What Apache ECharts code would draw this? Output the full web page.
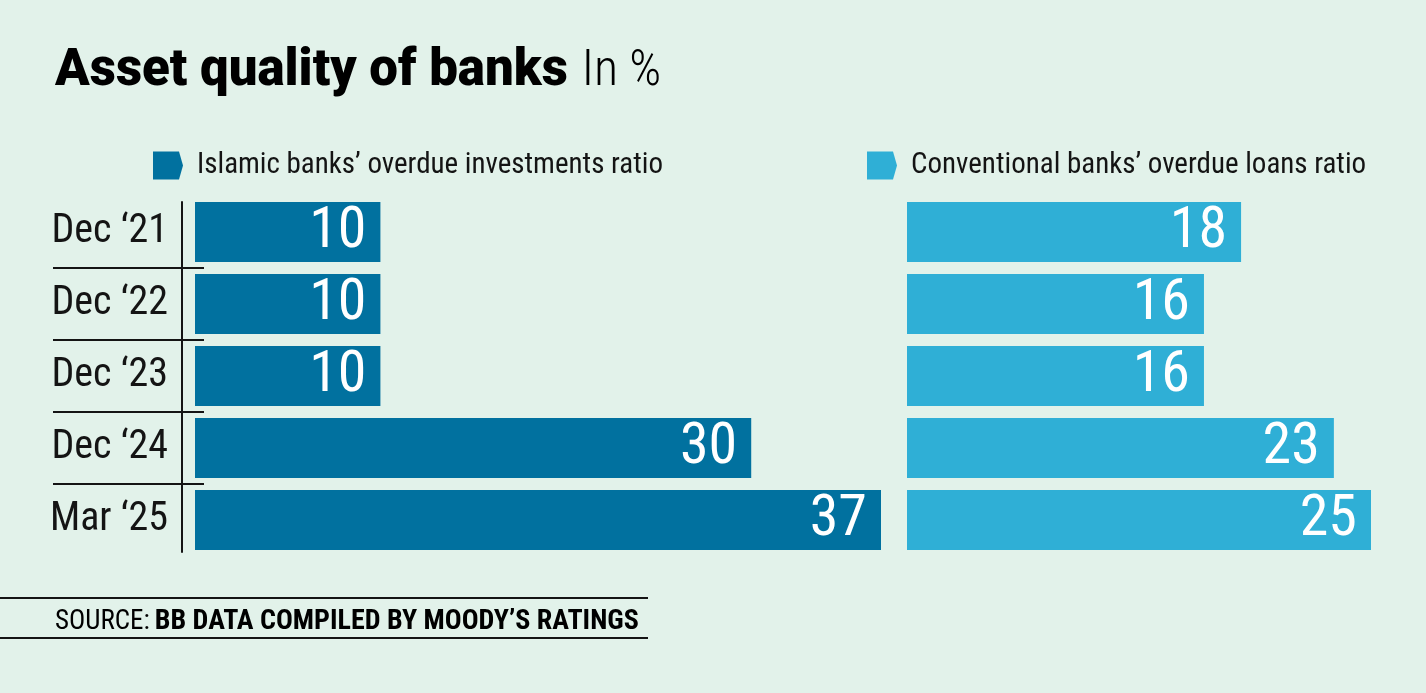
<!DOCTYPE html>
<html><head><meta charset="utf-8">
<script src="https://cdn.jsdelivr.net/npm/echarts@6/dist/echarts.min.js"></script>
<style>html,body{margin:0;padding:0;background:#e2f2ea;} #c{width:1426px;height:693px;}</style>
</head><body><div id="c"></div>
<script>
const categories = ['Dec \u201821','Dec \u201822','Dec \u201823','Dec \u201824','Mar \u201825'];
const islamicValues = [10, 10, 10, 30, 37];
const conventionalValues = [18, 16, 16, 23, 25];
const seriesNames = ['Islamic banks\u2019 overdue investments ratio', 'Conventional banks\u2019 overdue loans ratio'];
const titleMain = 'Asset quality of banks';
const titleUnit = 'In %';
const sourceLabel = 'SOURCE:';
const sourceText = 'BB DATA COMPILED BY MOODY\u2019S RATINGS';

const NARROW = '"Roboto Condensed", "DejaVu Sans Condensed", sans-serif';
const DARK = '#01719f';
const LIGHT = '#2fafd6';
const INK = '#141414';

const chart = echarts.init(document.getElementById('c'), null, {renderer: 'canvas'});
const icon = 'path://M0,0L26,0L30,14L26,28L0,28Z';
const valueLabel = {
  show: true, position: 'insideRight', distance: 14, color: '#ffffff',
  fontSize: 58, fontWeight: 'normal', fontFamily: NARROW
};
chart.setOption({
  backgroundColor: '#e2f2ea',
  animation: false,
  title: [
    {
      text: '{b|' + titleMain + '}{r|' + titleUnit + '}',
      left: 50, top: 42,
      textStyle: { rich: {
        b: { fontSize: 51, fontWeight: 900, fontFamily: 'Roboto', color: '#000' },
        r: { fontSize: 50, fontWeight: 300, fontFamily: NARROW, color: '#000', padding: [0, 0, 0, 14] }
      } }
    },
    {
      text: '{r|' + sourceLabel + '} {b|' + sourceText + '}',
      left: 50, top: 603,
      textStyle: { rich: {
        r: { fontSize: 27, fontWeight: 'normal', fontFamily: NARROW, color: '#000' },
        b: { fontSize: 28, fontWeight: 'bold', fontFamily: NARROW, color: '#000' }
      } }
    }
  ],
  legend: [
    {
      data: [seriesNames[0]], left: 148, top: 146, itemWidth: 30, itemHeight: 28, icon: icon,
      selectedMode: false,
      textStyle: { fontSize: 29, fontFamily: NARROW, color: INK, padding: [0, 0, 0, 9] }
    },
    {
      data: [seriesNames[1]], left: 862, top: 146, itemWidth: 30, itemHeight: 28, icon: icon,
      selectedMode: false,
      textStyle: { fontSize: 29, fontFamily: NARROW, color: INK, padding: [0, 0, 0, 9] }
    }
  ],
  grid: [
    { left: 195, top: 196, width: 686, height: 360 },
    { left: 907, top: 196, width: 464, height: 360 },
    { left: 53, top: 196, width: 151, height: 360 },
    { left: 182, top: 202, width: 1, height: 350 }
  ],
  xAxis: [
    { gridIndex: 0, type: 'value', min: 0, max: v => v.max, show: false },
    { gridIndex: 1, type: 'value', min: 0, max: v => v.max, show: false },
    { gridIndex: 2, type: 'value', show: false },
    { gridIndex: 3, type: 'value', show: false }
  ],
  yAxis: [
    {
      gridIndex: 0, type: 'category', data: categories, inverse: true,
      axisLine: { show: false }, axisTick: { show: false }, splitLine: { show: false },
      axisLabel: { margin: 27, fontSize: 40, fontWeight: 'normal', fontFamily: NARROW, color: INK }
    },
    { gridIndex: 1, type: 'category', data: categories, inverse: true, show: false },
    {
      gridIndex: 2, type: 'category', data: categories, inverse: true,
      axisLine: { show: false }, axisTick: { show: false }, axisLabel: { show: false },
      splitLine: { show: true, showMinLine: false, showMaxLine: false, lineStyle: { color: INK, width: 2 } }
    },
    {
      gridIndex: 3, type: 'value', min: 0, max: 1,
      axisLine: { show: true, lineStyle: { color: INK, width: 2 } },
      axisTick: { show: false }, axisLabel: { show: false }, splitLine: { show: false }
    }
  ],
  series: [
    {
      name: seriesNames[0], type: 'bar', xAxisIndex: 0, yAxisIndex: 0,
      data: islamicValues, barWidth: 60, itemStyle: { color: DARK }, label: valueLabel
    },
    {
      name: seriesNames[1], type: 'bar', xAxisIndex: 1, yAxisIndex: 1,
      data: conventionalValues, barWidth: 60, itemStyle: { color: LIGHT }, label: valueLabel
    }
  ],
  graphic: [
    { type: 'line', shape: { x1: 0, y1: 598, x2: 648, y2: 598 }, style: { stroke: INK, lineWidth: 2 } },
    { type: 'line', shape: { x1: 0, y1: 638, x2: 648, y2: 638 }, style: { stroke: INK, lineWidth: 2 } }
  ]
});
</script></body></html>
